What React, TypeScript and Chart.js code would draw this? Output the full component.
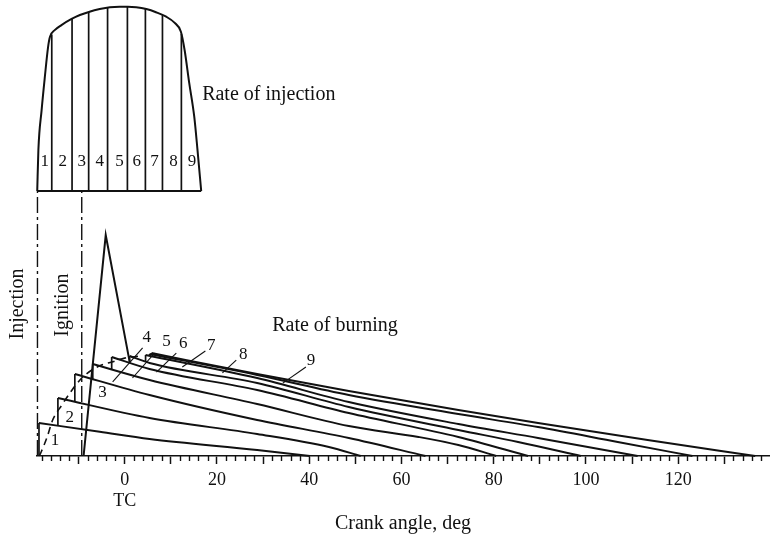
import React, { useEffect, useRef } from 'react';
import { Chart, registerables } from 'chart.js';

Chart.register(...registerables);

// ---------- Data (crank angle in deg, rates in arbitrary units) ----------
const xMin = -19;
const xMax = 139.7;
const tickLabels = [0, 20, 40, 60, 80, 100, 120];

// Rate of injection profile
const injAngle = [-18.95, -18.7, -18.0, -17.3, -16.6, -16.2, -15.1, -13.7, -11.5, -9.7, -7.6, -5.4, -3.2, -1.1, 0.7, 2.5, 4.7, 6.8, 9.0, 10.8, 12.2, 13.0, 14.0, 15.1, 15.8, 16.6];
const injRate = [0, 22, 43.5, 61.3, 77.4, 82.8, 86.6, 89.2, 92.5, 94.6, 96.4, 97.8, 98.8, 99.1, 99.1, 98.8, 97.8, 96.1, 93.7, 90.5, 85.6, 75.8, 58.1, 39.8, 22, 0];
// Boundaries of injected elements 1..9
const elementBounds = [-15.8, -11.4, -7.8, -3.7, 0.6, 4.5, 8.2, 12.3];
const elementNames = ['1', '2', '3', '4', '5', '6', '7', '8', '9'];
const elementLabelAngle = [-17.3, -13.4, -9.3, -5.4, -1.1, 2.6, 6.5, 10.6, 14.6];
const elementLabelRate = 15.6;

const injectionAngle = -18.9;
const ignitionAngle = -9.3;
const markerTop = 119.9;

// Premixed spike
const spikeAngle = [-8.9, -4.1, 1.1];
const spikeRate = [0, 100, 42.5];

// Cumulative burning-rate curves 1..9
const c1Angle = [-18.57, -5.4, 5.4, 28.73, 40.17];
const c1Rate = [14.93, 10.95, 7.69, 2.71, 0];
const c2Angle = [-14.47, 5.4, 28.73, 44.28, 51.19];
const c2Rate = [26.24, 17.19, 9.95, 4.07, 0];
const c3Angle = [-10.8, 5.4, 28.73, 48.6, 65.23];
const c3Rate = [37.1, 27.6, 16.29, 8.14, 0];
const c4Angle = [-6.91, 5.4, 28.73, 48.6, 63.71, 72.35, 80.56];
const c4Rate = [41.63, 34.39, 23.53, 13.57, 8.6, 4.98, 0];
const c5Angle = [-2.81, 5.4, 28.73, 48.6, 72.35, 87.47];
const c5Rate = [44.8, 39.37, 29.86, 19.46, 8.6, 0];
const c6Angle = [1.08, 5.4, 28.73, 48.6, 72.35, 85.31, 98.92];
const c6Rate = [45.25, 42.08, 33.03, 22.17, 11.76, 6.33, 0];
const c7Angle = [4.54, 28.73, 48.6, 72.35, 89.63, 111.23];
const c7Rate = [45.7, 35.29, 24.43, 14.48, 8.14, 0];
const c8Angle = [5.4, 28.73, 48.6, 72.35, 89.63, 106.91, 123.11];
const c8Rate = [46.15, 36.65, 27.6, 19.0, 13.12, 6.33, 0];
const c9Angle = [5.83, 28.73, 48.6, 72.35, 89.63, 113.39, 136.72];
const c9Rate = [46.6, 37.1, 29.41, 20.81, 14.93, 7.24, 0];

// Dashed envelope of element ignition
const envAngle = [-18.5, -18.1, -16.8, -15.6, -13.6, -11.4, -9.3, -7.1, -5.0, -2.8, 0, 3.2];
const envRate = [0, 1.8, 8.6, 16.3, 23.1, 29.9, 35.3, 38.9, 41.2, 42.5, 44.3, 45.2];

// Curve labels
const curveLabelAngle = [-15.1, -11.9, -4.8, 4.8, 9.1, 12.7, 18.8, 25.7, 40.4];
const curveLabelRate = [7.2, 17.6, 28.5, 53.8, 51.6, 50.7, 50.2, 45.7, 43.4];
const leaderFromAngle = [3.9, 6.5, 11.2, 17.5, 24.2, 39.3];
const leaderFromRate = [48.9, 46.6, 46.6, 47.5, 43.4, 40.3];
const leaderToAngle = [-2.6, 1.7, 6.9, 12.5, 21.2, 34.3];
const leaderToRate = [33.5, 35.3, 38.0, 40.3, 37.6, 33.0];

// ---------- helpers ----------
const pts = (xs: number[], ys: number[]) => xs.map((x, i) => ({ x, y: ys[i] }));
function interp(xs: number[], ys: number[], x: number) {
  if (x <= xs[0]) return ys[0];
  for (let i = 1; i < xs.length; i++) {
    if (x <= xs[i]) {
      const t = (x - xs[i - 1]) / (xs[i] - xs[i - 1]);
      return ys[i - 1] + t * (ys[i] - ys[i - 1]);
    }
  }
  return ys[ys.length - 1];
}

const FONT = '"Liberation Serif", "Times New Roman", serif';
const INK = '#111';

export default function App() {
  const ref = useRef<HTMLCanvasElement>(null);
  useEffect(() => {
    const canvas = ref.current;
    if (!canvas) return;
    const base = { borderColor: INK, pointRadius: 0, fill: false, tension: 0, clip: false, borderWidth: 1.8 };
    const smooth = { cubicInterpolationMode: 'monotone' };
    const ds: any[] = [];

    // Injection profile
    ds.push({ ...base, ...smooth, data: pts(injAngle, injRate), yAxisID: 'y2', borderWidth: 2 });
    ds.push({ ...base, data: [{ x: injAngle[0], y: 0 }, { x: injAngle[injAngle.length - 1], y: 0 }], yAxisID: 'y2' });
    elementBounds.forEach((a) => {
      ds.push({ ...base, data: [{ x: a, y: 0 }, { x: a, y: interp(injAngle, injRate, a) }], yAxisID: 'y2', borderWidth: 1.7 });
    });

    // Injection / ignition markers
    [injectionAngle, ignitionAngle].forEach((a) => {
      ds.push({ ...base, data: [{ x: a, y: 0 }, { x: a, y: markerTop }], yAxisID: 'y', borderWidth: 1.4, borderDash: [16, 4, 3, 4] });
    });

    // Spike
    ds.push({ ...base, data: pts(spikeAngle, spikeRate), yAxisID: 'y', borderWidth: 2 });

    // Curves
    const curves = [
      [c1Angle, c1Rate], [c2Angle, c2Rate], [c3Angle, c3Rate], [c4Angle, c4Rate], [c5Angle, c5Rate],
      [c6Angle, c6Rate], [c7Angle, c7Rate], [c8Angle, c8Rate], [c9Angle, c9Rate],
    ];
    curves.forEach(([ax, rx], k) => {
      const start = ax[0];
      const bottom = k === 0 ? 0 : interp(curves[k - 1][0], curves[k - 1][1], start);
      ds.push({ ...base, data: [{ x: start, y: bottom }, { x: start, y: rx[0] }], yAxisID: 'y', borderWidth: 1.7 });
      ds.push({ ...base, ...smooth, data: pts(ax, rx), yAxisID: 'y', borderWidth: 1.9 });
    });

    // Envelope
    ds.push({ ...base, ...smooth, data: pts(envAngle, envRate), yAxisID: 'y', borderWidth: 1.6, borderDash: [7, 5] });

    // Leaders
    leaderFromAngle.forEach((a, i) => {
      ds.push({ ...base, data: [{ x: a, y: leaderFromRate[i] }, { x: leaderToAngle[i], y: leaderToRate[i] }], yAxisID: 'y', borderWidth: 1.1 });
    });

    const textPlugin = {
      id: 'texts',
      afterDatasetsDraw(chart: any) {
        const { ctx, scales, chartArea } = chart;
        const x = scales.x, y = scales.y, y2 = scales.y2;
        ctx.save();
        // minor ticks
        ctx.strokeStyle = INK;
        ctx.lineWidth = 1.4;
        for (let v = -18; v <= 138; v += 2) {
          if (v % 10 === 0) continue;
          const px = Math.round(x.getPixelForValue(v)) + 0.5;
          ctx.beginPath();
          ctx.moveTo(px, chartArea.bottom);
          ctx.lineTo(px, chartArea.bottom + 5);
          ctx.stroke();
        }
        ctx.fillStyle = INK;
        ctx.textAlign = 'center';
        ctx.textBaseline = 'middle';
        // element labels
        ctx.font = `17px ${FONT}`;
        elementNames.forEach((n, i) => {
          ctx.fillText(n, x.getPixelForValue(elementLabelAngle[i]), y2.getPixelForValue(elementLabelRate));
        });
        curveLabelAngle.forEach((a, i) => {
          ctx.fillText(elementNames[i], x.getPixelForValue(a), y.getPixelForValue(curveLabelRate[i]));
        });
        // titles
        ctx.font = `20px ${FONT}`;
        ctx.textAlign = 'left';
        ctx.fillText('Rate of injection', x.getPixelForValue(16.8), y2.getPixelForValue(51.6));
        ctx.textAlign = 'center';
        ctx.fillText('Rate of burning', x.getPixelForValue(45.6), y.getPixelForValue(58.8));
        ctx.font = `18px ${FONT}`;
        ctx.fillText('TC', x.getPixelForValue(0), chartArea.bottom + 45);
        // rotated labels
        ctx.font = `20px ${FONT}`;
        const rot = (t: string, px: number, py: number) => {
          ctx.save();
          ctx.translate(px, py);
          ctx.rotate(-Math.PI / 2);
          ctx.fillText(t, 0, 0);
          ctx.restore();
        };
        rot('Injection', x.getPixelForValue(-23.1), y.getPixelForValue(68.8));
        rot('Ignition', x.getPixelForValue(-13.4), y.getPixelForValue(68.3));
        ctx.restore();
      },
    };

    const chart = new Chart(canvas, {
      type: 'line',
      data: { datasets: ds },
      options: {
        responsive: false,
        animation: false,
        events: [],
        layout: { padding: { left: 37, right: 1, top: 5, bottom: 0 } },
        plugins: { legend: { display: false }, tooltip: { enabled: false }, title: { display: false } },
        scales: {
          x: {
            type: 'linear',
            min: xMin,
            max: xMax,
            afterFit: (s: any) => { s.height = 82; },
            border: { display: true, color: INK, width: 1.6 },
            grid: {
              drawOnChartArea: false,
              drawTicks: true,
              tickLength: 8,
              tickWidth: 1.5,
              tickColor: (c: any) => (c.tick && Math.abs(Math.round(c.tick.value) % 10) === 0 && Math.abs(c.tick.value - Math.round(c.tick.value)) < 1e-6) ? INK : 'rgba(0,0,0,0)',
            },
            ticks: {
              stepSize: 2,
              autoSkip: false,
              maxRotation: 0,
              padding: 5,
              color: INK,
              font: { family: FONT, size: 18 },
              callback: (v: any) => (tickLabels.includes(Number(v)) ? String(v) : ''),
            },
            title: { display: true, text: 'Crank angle, deg', color: INK, font: { family: FONT, size: 20 }, padding: { top: 0, bottom: 2 } },
          },
          y: { display: false, min: 0, max: 204.1 },
          y2: { display: false, min: -142.5, max: 100 },
        },
      },
      plugins: [textPlugin],
    } as any);
    return () => chart.destroy();
  }, []);
  return (
    <canvas ref={ref} width={774} height={538} style={{ position: 'fixed', left: 0, top: 0, background: '#fff' }} />
  );
}
